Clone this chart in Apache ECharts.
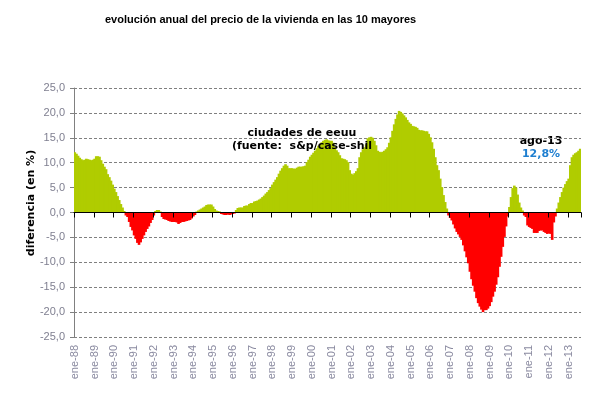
<!DOCTYPE html>
<html>
<head>
<meta charset="utf-8">
<script src="https://cdn.jsdelivr.net/npm/echarts@6/dist/echarts.min.js"></script>
<style>
  html, body { margin: 0; padding: 0; background: #ffffff; }
  #chart { width: 610px; height: 396px; }
</style>
</head>
<body>
<div id="chart"></div>
<script>
'use strict';

// meses y años del eje x (ene-88 ... ago-13)
var meses = ['ene', 'feb', 'mar', 'abr', 'may', 'jun', 'jul', 'ago', 'sep', 'oct', 'nov', 'dic'];
var anios = ['88', '89', '90', '91', '92', '93', '94', '95', '96', '97', '98', '99', '00',
             '01', '02', '03', '04', '05', '06', '07', '08', '09', '10', '11', '12', '13'];
var mesesUltimoAnio = 8;

// variación anual (%), una fila por año
var variacion = [
    12.1, 11.8, 11.4, 11.0, 10.7, 10.5, 10.6, 10.8, 10.7, 10.6, 10.5, 10.6,   // 88
    10.8, 11.3, 11.3, 11.2, 10.5, 9.8, 9.2, 8.7, 7.7, 7.1, 6.4, 5.6,          // 89
    4.8, 4.1, 3.3, 2.5, 1.7, 1.0, 0.3, -0.6, -0.9, -1.9, -2.9, -3.6,          // 90
    -4.6, -5.3, -6.1, -6.5, -6.0, -5.3, -4.6, -3.9, -3.3, -2.8, -2.1, -1.5,   // 91
    -0.6, 0.3, 0.5, 0.5, 0.2, -0.9, -1.3, -1.4, -1.5, -1.7, -1.8, -1.9,       // 92
    -1.9, -1.9, -2.0, -2.3, -2.1, -1.9, -1.9, -1.8, -1.7, -1.6, -1.5, -1.2,   // 93
    -0.8, -0.5, 0.2, 0.4, 0.6, 0.8, 1.0, 1.2, 1.5, 1.6, 1.6, 1.6,             // 94
    1.2, 0.7, 0.4, 0.3, 0.2, -0.3, -0.4, -0.5, -0.5, -0.4, -0.5, -0.4,        // 95
    -0.3, -0.2, 0.5, 0.9, 1.0, 1.0, 1.0, 1.3, 1.4, 1.4, 1.7, 1.9,             // 96
    1.9, 2.2, 2.3, 2.4, 2.6, 2.8, 3.1, 3.4, 3.8, 4.1, 4.5, 4.9,               // 97
    5.6, 6.1, 6.6, 7.1, 7.8, 8.4, 8.9, 9.4, 9.7, 9.4, 8.9, 8.9,               // 98
    8.9, 8.8, 8.8, 9.0, 9.2, 9.2, 9.2, 9.3, 9.4, 10.1, 10.6, 11.2,            // 99
    11.6, 12.0, 12.4, 12.9, 13.4, 13.8, 14.1, 14.4, 14.6, 14.7, 14.5, 14.4,   // 00
    14.4, 14.0, 13.1, 12.5, 12.1, 11.5, 10.9, 10.8, 10.7, 10.5, 10.1, 8.5,    // 01
    7.8, 7.6, 7.9, 8.3, 8.9, 11.1, 12.1, 12.7, 13.1, 13.7, 14.9, 15.1,        // 02
    15.2, 15.0, 14.4, 13.5, 12.4, 12.2, 12.1, 12.2, 12.4, 12.7, 13.1, 14.0,   // 03
    15.1, 16.4, 17.7, 18.8, 19.7, 20.4, 20.2, 19.9, 19.5, 19.1, 18.6, 18.1,   // 04
    17.8, 17.4, 17.3, 17.2, 17.0, 16.6, 16.5, 16.5, 16.4, 16.3, 16.3, 15.8,   // 05
    15.1, 14.1, 12.8, 11.1, 9.5, 8.5, 6.8, 5.1, 3.5, 2.1, 0.8, -0.6,          // 06
    -1.1, -1.6, -2.4, -3.2, -3.9, -4.4, -4.9, -5.5, -6.6, -7.8, -9.0, -10.2,  // 07
    -11.9, -13.4, -14.7, -15.9, -17.2, -18.2, -18.9, -19.5, -20.0, -19.6, -19.6, -19.3, // 08
    -18.8, -18.0, -16.9, -15.9, -14.5, -13.0, -10.9, -8.9, -6.9, -4.9, -2.8, -0.8,      // 09
    1.1, 3.1, 4.9, 5.4, 5.0, 3.6, 2.0, 1.0, 0.4, -0.6, -0.9, -2.6,            // 10
    -2.9, -3.1, -3.3, -4.1, -4.1, -4.1, -3.7, -3.6, -3.6, -3.9, -4.1, -4.3,   // 11
    -4.2, -4.3, -5.5, -2.0, -0.8, 0.8, 2.0, 3.1, 4.1, 5.0, 5.7, 6.3,          // 12
    6.8, 9.5, 11.1, 11.6, 11.9, 12.1, 12.4, 12.8                              // 13
];

var titulo = 'evolución anual del precio de la vivienda en las 10 mayores';
var tituloEjeY = 'diferencia (en %)';
var notaFuente = 'ciudades de eeuu\n(fuente:  s&p/case-shil';
var notaFecha = 'ago-13';
var notaValor = '12,8%';

var COLOR_POS = '#b0cc00';
var COLOR_NEG = '#ff0000';
var GRIS = '#808080';

// construir categorias mensuales
var categorias = [];
for (var a = 0; a < anios.length; a++) {
    var n = (a == anios.length - 1) ? mesesUltimoAnio : 12;
    for (var m = 0; m < n; m++) {
        categorias.push(meses[m] + '-' + anios[a]);
    }
}

// barras: verde si sube, rojo si baja
var barras = [];
for (var i = 0; i < variacion.length; i++) {
    var c = variacion[i] < 0 ? COLOR_NEG : COLOR_POS;
    barras.push({
        value: variacion[i],
        itemStyle: { color: c }
    });
}

var esEnero = function (idx) {
    return idx % 12 === 0;
};

var option = {
    animation: false,
    backgroundColor: '#ffffff',
    textStyle: { fontFamily: 'Liberation Sans' },
    title: {
        text: titulo,
        left: 100,
        top: 9,
        textStyle: {
            fontFamily: 'Liberation Sans',
            fontSize: 11,
            fontWeight: 'bold',
            color: '#000000'
        }
    },
    grid: {
        left: 74,
        right: 29,
        top: 88,
        bottom: 59,
        containLabel: false
    },
    xAxis: [
        {
            type: 'category',
            data: categorias,
            boundaryGap: true,
            z: 5,
            axisLine: { onZero: true, lineStyle: { color: '#000000', width: 1 } },
            axisTick: { show: true, interval: esEnero, length: 5, lineStyle: { color: '#000000' } },
            axisLabel: { show: false },
            splitLine: { show: false }
        },
        {
            type: 'category',
            data: categorias,
            position: 'bottom',
            boundaryGap: true,
            axisLine: { show: false, onZero: false },
            axisTick: { show: false },
            axisLabel: {
                interval: esEnero,
                rotate: 90,
                margin: 8,
                color: '#8a8aa0',
                fontSize: 11,
                fontFamily: 'Liberation Sans'
            },
            splitLine: { show: false }
        }
    ],
    yAxis: {
        type: 'value',
        min: -25,
        max: 25,
        interval: 5,
        axisLine: { show: true, lineStyle: { color: GRIS } },
        axisTick: { show: true, length: 4, lineStyle: { color: GRIS } },
        axisLabel: {
            margin: 9,
            color: '#7f7f90',
            fontSize: 11,
            fontFamily: 'Liberation Sans',
            formatter: function (v) {
                return v.toFixed(1).replace('.', ',');
            }
        },
        splitLine: { show: true, lineStyle: { color: GRIS, type: [3, 2], width: 1 } }
    },
    series: [{
        type: 'bar',
        data: barras,
        xAxisIndex: 0,
        barWidth: 2.6
    }],
    graphic: [
        {
            type: 'text',
            x: 31,
            y: 203,
            rotation: Math.PI / 2,
            style: {
                text: tituloEjeY,
                fill: '#000000',
                font: 'bold 11px "DejaVu Sans"',
                align: 'center',
                verticalAlign: 'middle'
            }
        },
        {
            type: 'text',
            x: 302,
            y: 127,
            z: 100,
            style: {
                text: notaFuente,
                fill: '#000000',
                font: 'bold 11px "DejaVu Sans"',
                lineHeight: 13,
                align: 'center',
                verticalAlign: 'top'
            }
        },
        {
            type: 'text',
            x: 541,
            y: 136,
            style: {
                text: notaFecha,
                fill: '#000000',
                font: 'bold 11px "DejaVu Sans"',
                align: 'center',
                verticalAlign: 'top'
            }
        },
        {
            type: 'text',
            x: 541,
            y: 149,
            style: {
                text: notaValor,
                fill: '#1f7fd0',
                font: 'bold 11px "DejaVu Sans"',
                align: 'center',
                verticalAlign: 'top'
            }
        }
    ]
};

var chart = echarts.init(document.getElementById('chart'));
chart.setOption(option);
</script>
</body>
</html>
